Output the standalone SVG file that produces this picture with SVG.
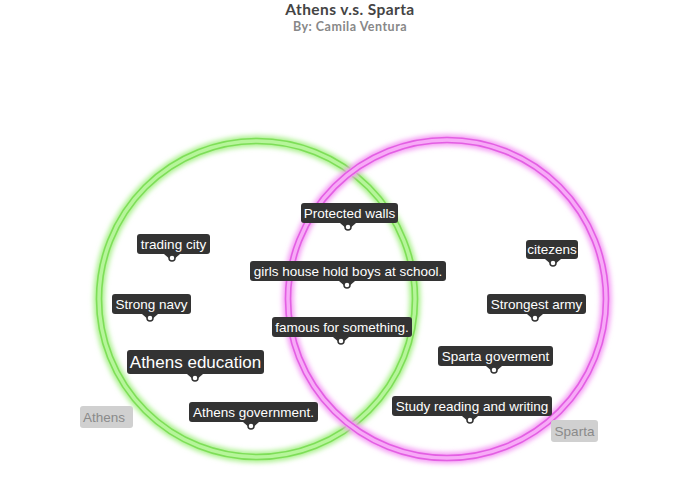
<svg xmlns="http://www.w3.org/2000/svg" width="700" height="491" viewBox="0 0 700 491">
<defs>
<style>
.title{font-family:"Lato","Liberation Sans",sans-serif;font-weight:bold;font-size:15.5px;fill:#444;text-anchor:middle;letter-spacing:0.4px}
.sub{font-family:"Lato","Liberation Sans",sans-serif;font-weight:bold;font-size:12.5px;fill:#888;text-anchor:middle;letter-spacing:0.5px}
.box{fill:#333;}
.lbl{font-family:"Liberation Sans",Arial,sans-serif;font-size:13.5px;fill:#fff;text-anchor:middle}
.big{font-size:17px}
.dot{fill:#fff;stroke:#333;stroke-width:1.5}
.gbox{fill:#d0d0d0}
.glbl{font-family:"Liberation Sans",Arial,sans-serif;font-size:13.5px;fill:#8a8a8a;text-anchor:middle}
</style>
<filter id="glow" x="-20%" y="-20%" width="140%" height="140%"><feGaussianBlur stdDeviation="2.5"/></filter>
</defs>
<rect width="700" height="491" fill="#fff"/>
<text class="title" x="350" y="14.5">Athens v.s. Sparta</text>
<text class="sub" x="350" y="30.5">By: Camila Ventura</text>
<g id="circles">
<g id="athens-circle" fill="none">
<circle cx="257" cy="299" r="158" stroke="#a8f08a" stroke-width="11" filter="url(#glow)"/>
<circle cx="257" cy="299" r="158" stroke="#b6f59a" stroke-width="7"/>
<circle cx="257" cy="299" r="155.5" stroke="#7ede58" stroke-width="1.6"/>
<circle cx="257" cy="299" r="160.5" stroke="#7ede58" stroke-width="1.6"/>
</g>
<g id="sparta-circle" fill="none">
<circle cx="447" cy="299" r="159" stroke="#f49af4" stroke-width="11" filter="url(#glow)"/>
<circle cx="447" cy="299" r="159" stroke="#f7aaf7" stroke-width="7"/>
<circle cx="447" cy="299" r="156.5" stroke="#e35fe3" stroke-width="1.6"/>
<circle cx="447" cy="299" r="161.5" stroke="#e35fe3" stroke-width="1.6"/>
</g>
</g>
<g id="connectors"></g>
<g id="n-protected"><rect class="box" x="301" y="203" width="97" height="20" rx="3"/><path class="box" d="M340 223 L348 230 L356 223 Z"/><circle class="dot" cx="348" cy="227" r="3"/><text class="lbl" x="349.5" y="217.5">Protected walls</text></g>
<g id="n-trading"><rect class="box" x="137" y="234" width="73" height="20" rx="3"/><path class="box" d="M164 254 L172 261 L180 254 Z"/><circle class="dot" cx="172" cy="258" r="3"/><text class="lbl" x="173.5" y="248.5">trading city</text></g>
<g id="n-girls"><rect class="box" x="250" y="261" width="196" height="20" rx="3"/><path class="box" d="M339 281 L347 288 L355 281 Z"/><circle class="dot" cx="347" cy="285" r="3"/><text class="lbl" x="348" y="275.5">girls house hold boys at school.</text></g>
<g id="n-citezens"><rect class="box" x="526" y="240" width="52" height="19" rx="3"/><path class="box" d="M545 259 L553 266 L561 259 Z"/><circle class="dot" cx="553" cy="263" r="3"/><text class="lbl" x="552" y="254">citezens</text></g>
<g id="n-navy"><rect class="box" x="112" y="294" width="79" height="20" rx="3"/><path class="box" d="M142 314 L150 321 L158 314 Z"/><circle class="dot" cx="150" cy="318" r="3"/><text class="lbl" x="151.5" y="308.5">Strong navy</text></g>
<g id="n-army"><rect class="box" x="487" y="294" width="99" height="20" rx="3"/><path class="box" d="M527 314 L535 321 L543 314 Z"/><circle class="dot" cx="535" cy="318" r="3"/><text class="lbl" x="536.5" y="308.5">Strongest army</text></g>
<g id="n-famous"><rect class="box" x="272" y="317" width="140" height="20" rx="3"/><path class="box" d="M333 337 L341 344 L349 337 Z"/><circle class="dot" cx="341" cy="341" r="3"/><text class="lbl" x="342" y="331.5">famous for something.</text></g>
<g id="n-education"><rect class="box" x="127" y="350" width="137" height="24" rx="3"/><path class="box" d="M187 374 L195 381 L203 374 Z"/><circle class="dot" cx="195" cy="378" r="3"/><text class="lbl big" x="195.5" y="368">Athens education</text></g>
<g id="n-sgov"><rect class="box" x="438" y="346" width="115" height="20" rx="3"/><path class="box" d="M486 366 L494 373 L502 366 Z"/><circle class="dot" cx="494" cy="370" r="3"/><text class="lbl" x="495.5" y="360.5">Sparta goverment</text></g>
<g id="n-agov"><rect class="box" x="189" y="402" width="129" height="20" rx="3"/><path class="box" d="M243 422 L251 429 L259 422 Z"/><circle class="dot" cx="251" cy="426" r="3"/><text class="lbl" x="253.5" y="416.5">Athens government.</text></g>
<g id="n-study"><rect class="box" x="392" y="396" width="160" height="20" rx="3"/><path class="box" d="M462 416 L470 423 L478 416 Z"/><circle class="dot" cx="470" cy="420" r="3"/><text class="lbl" x="472" y="410.5">Study reading and writing</text></g>
<g id="l-athens"><rect class="gbox" x="80" y="406" width="53" height="22" rx="3"/><text class="glbl" x="104" y="421.5">Athens</text></g>
<g id="l-sparta"><rect class="gbox" x="551" y="420" width="47" height="22" rx="3"/><text class="glbl" x="574.5" y="435.5">Sparta</text></g>
</svg>
